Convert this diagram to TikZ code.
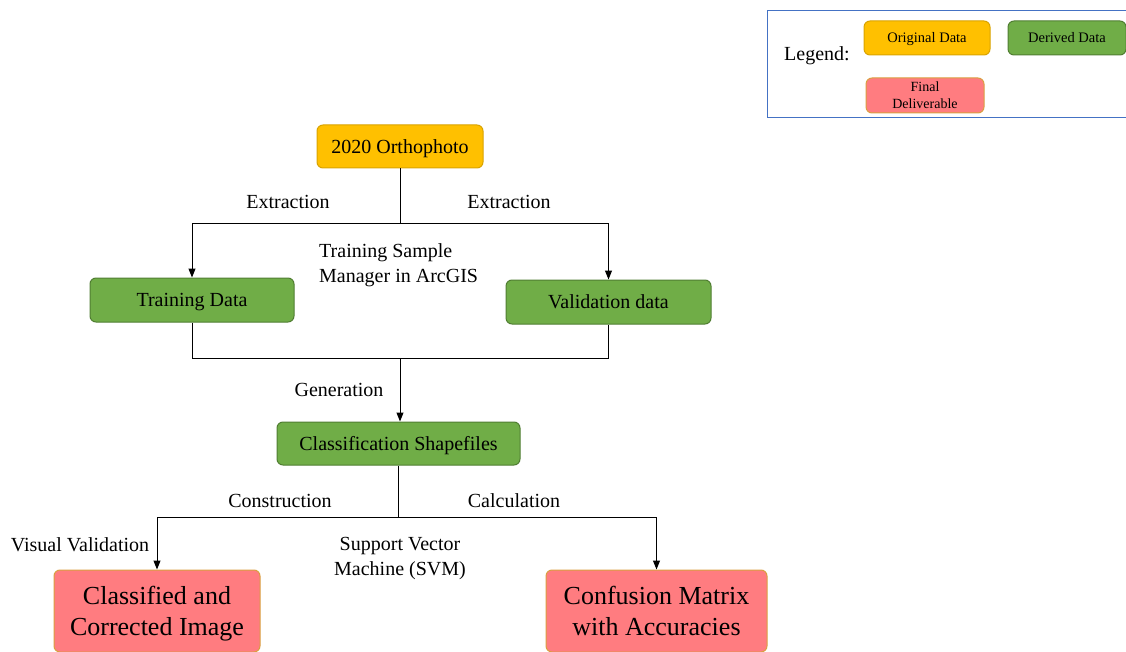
\documentclass[tikz,border=0pt]{standalone}
\usepackage{fontspec}
\setmainfont{Liberation Serif}
\usetikzlibrary{arrows.meta}
\definecolor{origf}{HTML}{FFC000}
\definecolor{origd}{HTML}{D9A300}
\definecolor{derf}{HTML}{70AD47}
\definecolor{derd}{HTML}{507E32}
\definecolor{finf}{HTML}{FF7C80}
\definecolor{find}{HTML}{D9A040}
\definecolor{legd}{HTML}{4472C4}
\begin{document}
\begin{tikzpicture}[x=1pt,y=-1pt,
  box/.style={draw, rounded corners=6pt, line width=1pt, inner sep=0pt, text=black, align=center, text depth=0pt},
  orig/.style={box, fill=origf, draw=origd},
  der/.style={box, fill=derf, draw=derd},
  fin/.style={box, fill=finf, draw=find},
  mid/.style={font=\fontsize{20}{25}\selectfont, text height=13.5pt},
  big/.style={font=\fontsize{26}{31}\selectfont},
  small/.style={font=\fontsize{14.5}{17}\selectfont, text height=9.7pt},
  lbl/.style={font=\fontsize{20}{25}\selectfont, inner sep=0pt, text=black},
  arr/.style={-{Triangle[length=9pt,width=7pt]}, line width=1pt},
  ln/.style={line width=1pt}]
\useasboundingbox (0,0) rectangle (1126,652);
\clip (0,0) rectangle (1126,652);
% legend
\draw[legd, line width=1pt] (767,11) rectangle (1135,118);
\node[lbl] (legend) at (817,56) {Legend:};
\node[orig, small, minimum width=126pt, minimum height=34pt] (lo) at (927,38) {Original Data};
\node[der, small, minimum width=118pt, minimum height=34pt] (ld) at (1067,38) {Derived Data};
\node[fin, font=\fontsize{14}{17}\selectfont, minimum width=118pt, minimum height=35pt] (lf) at (925,95.5) {Final\\Deliverable};
% main nodes
\node[orig, mid, minimum width=166pt, minimum height=43pt] (ortho) at (400,146.5) {2020 Orthophoto};
\node[der, mid, minimum width=204pt, minimum height=44pt] (train) at (192,300) {Training Data};
\node[der, mid, minimum width=205pt, minimum height=44pt] (valid) at (608.5,302) {Validation data};
\node[der, mid, minimum width=243pt, minimum height=43pt] (shape) at (398.5,443.5) {Classification Shapefiles};
\node[fin, big, minimum width=206pt, minimum height=82pt] (classed) at (157,611) {Classified and\\Corrected Image};
\node[fin, big, minimum width=221pt, minimum height=82pt] (conf) at (656.5,611) {Confusion Matrix\\with Accuracies};
% junctions
\coordinate (j1) at (400,224);
\coordinate (j2) at (400,358);
\coordinate (j3) at (398.5,517);
\draw[ln] (ortho) -- (j1);
\draw[arr] (j1) -| (train);
\draw[arr] (j1) -| (valid);
\draw[ln] (train) |- (j2);
\draw[ln] (valid) |- (j2);
\draw[arr] (j2) -- (j2 |- shape.north);
\draw[ln] (shape) -- (j3);
\draw[arr] (j3) -| (classed);
\draw[arr] (j3) -| (conf);
% labels
\node[lbl] (ex1) at (288,202) {Extraction};
\node[lbl] (ex2) at (509,202) {Extraction};
\node[lbl, align=left, anchor=west] (tsm) at (319,265) {Training Sample\\Manager in ArcGIS};
\node[lbl] (gen) at (339,390) {Generation};
\node[lbl] (cons) at (280,501) {Construction};
\node[lbl] (calc) at (514,501) {Calculation};
\node[lbl] (vis) at (80,545) {Visual Validation};
\node[lbl, align=center] (svm) at (400,558.5) {Support Vector\\Machine (SVM)};
\end{tikzpicture}
\end{document}
